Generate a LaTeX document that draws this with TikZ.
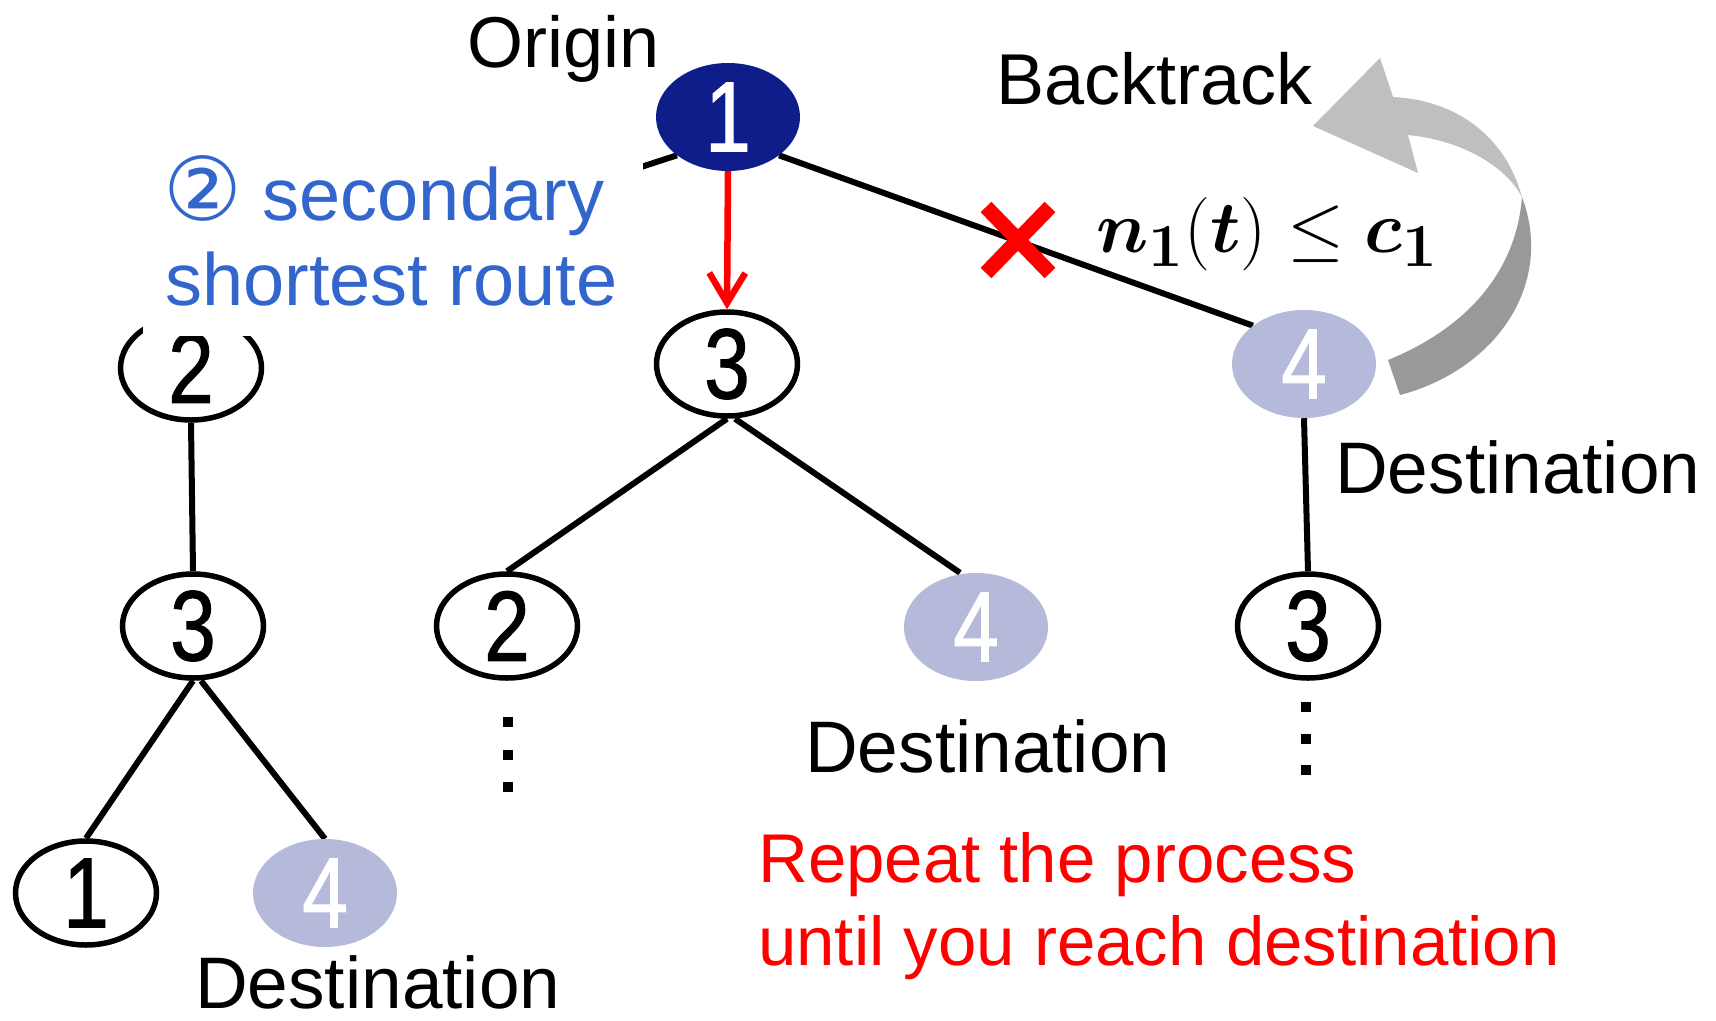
\documentclass[tikz,border=0pt]{standalone}
\usepackage[no-math]{fontspec}
\setmainfont{Liberation Sans}
\newfontfamily\digitfont{Liberation Sans}[FakeStretch=0.82,FakeBold=1]
\newfontfamily\symfont{DejaVu Sans}
\usepackage{bm}
\usetikzlibrary{arrows.meta,shapes.geometric}

\definecolor{navy}{RGB}{14,29,138}
\definecolor{destfill}{RGB}{181,186,219}
\definecolor{routeblue}{RGB}{51,102,204}
\definecolor{arrowlight}{RGB}{191,191,191}
\definecolor{arrowdark}{RGB}{153,153,153}

\pgfdeclarelayer{paper}
\pgfdeclarelayer{edges}
\pgfsetlayers{paper,edges,main}

\begin{document}
\begin{tikzpicture}[x=1pt,y=-1pt,
  vtx/.style={ellipse, inner sep=0pt, font=\fontsize{100}{100}\digitfont},
  plainvtx/.style={vtx, draw=black, fill=white, line width=5.5pt,
                   minimum width=141pt, minimum height=104pt},
  filledvtx/.style={vtx, text=white, minimum width=144pt, minimum height=108pt},
  destvtx/.style={filledvtx, fill=destfill},
  originvtx/.style={filledvtx, fill=navy},
  link/.style={line width=6pt, black},
  label/.style={inner sep=0pt, anchor=base west, font=\fontsize{72}{86}\selectfont},
  vdot/.style={fill=black, minimum size=10pt, inner sep=0pt}
]
\useasboundingbox (0,0) rectangle (1716,1020);
\begin{pgfonlayer}{paper}
  \fill[white] (0,0) rectangle (1716,1020);
\end{pgfonlayer}

% tree vertices
\node[originvtx] (n1) at (728,117) {1};
\node[plainvtx]  (c3) at (727,364) {3};
\node[destvtx]   (d4) at (1304,364) {4};
\node[plainvtx]  (l2) at (191,368) {2};
\node[plainvtx]  (l3) at (193,626) {3};
\node[plainvtx]  (l1) at (86,893) {1};
\node[destvtx]   (l4) at (325,893) {4};
\node[plainvtx]  (m2) at (507,626) {2};
\node[destvtx]   (m4) at (976,627) {4};
\node[plainvtx]  (r3) at (1308,626) {3};

% tree edges
\begin{pgfonlayer}{edges}
  \draw[link] (n1.south west) -- (l2.north);
  \draw[link] (n1.south east) -- (d4.north west);
  \draw[link] (c3.south) -- (m2.north);
  \draw[link] ([xshift=8pt]c3.south) -- ([xshift=-16pt]m4.north);
  \draw[link] (l2.south) -- (l3.north);
  \draw[link] (l3.south) -- (l1.north);
  \draw[link] ([xshift=8pt]l3.south) -- (l4.north);
  \draw[link] (d4.south) -- (r3.north);
\end{pgfonlayer}

% chosen step
\draw[red, line width=6.5pt, -{Straight Barb[length=30pt,width=36pt]}] (n1.south) -- (c3.north);

% blocked edge
\coordinate (cross) at (1018,240);
\draw[red, line width=15pt] (cross) +(-32,-33) -- +(32,33)
                            (cross) +(-32,33) -- +(32,-33);

% continuation marks
\foreach \y [count=\i] in {722,755,787} \node[vdot] (mdot\i) at (508,\y) {};
\foreach \y [count=\i] in {707,739,770} \node[vdot] (rdot\i) at (1306,\y) {};

% backtrack arrow
\fill[arrowlight] (1522,197) .. controls (1505,135) and (1455,100) .. (1393,97)
   -- (1380,58) -- (1313,126) -- (1418,173) -- (1408,135)
   .. controls (1460,140) and (1505,165) .. (1522,197) -- cycle;
\fill[arrowdark] (1388,360) .. controls (1450,335) and (1515,285) .. (1522,197)
   .. controls (1555,285) and (1495,370) .. (1400,395) -- cycle;

% route caption with its white text box
\node[fill=white, inner sep=0pt, minimum width=500pt, minimum height=186pt,
      anchor=north west] (routebox) at (143,150) {};
\node[label, text=routeblue, font=\fontsize{74}{88}\selectfont] (route1) at (163,220)
  {{\symfont\fontsize{88}{88}\selectfont ②} secondary};
\node[label, text=routeblue, font=\fontsize{74}{88}\selectfont] (route2) at (165,305)
  {shortest route};

% labels
\node[label] (origin)    at (467,67)   {Origin};
\node[label] (backtrack) at (996,104)  {Backtrack};
\node[label, font=\fontsize{73}{86}\selectfont] (dest1) at (1335,493) {Destination};
\node[label, font=\fontsize{73}{86}\selectfont] (dest2) at (805,772)  {Destination};
\node[label, font=\fontsize{73}{86}\selectfont] (dest3) at (195,1008) {Destination};
\node[label, text=red, font=\fontsize{69}{83}\selectfont] (repeat1) at (758,882) {Repeat the process};
\node[label, text=red, font=\fontsize{69}{83}\selectfont] (repeat2) at (758,965) {until you reach destination};
\node[label, font=\fontsize{24.88}{30}\selectfont] (cond) at (1096,252)
  {\scalebox{2.95}{$\bm{n}_{\mathbf{1}}(\bm{t})\le\bm{c}_{\mathbf{1}}$}};
\end{tikzpicture}
\end{document}
